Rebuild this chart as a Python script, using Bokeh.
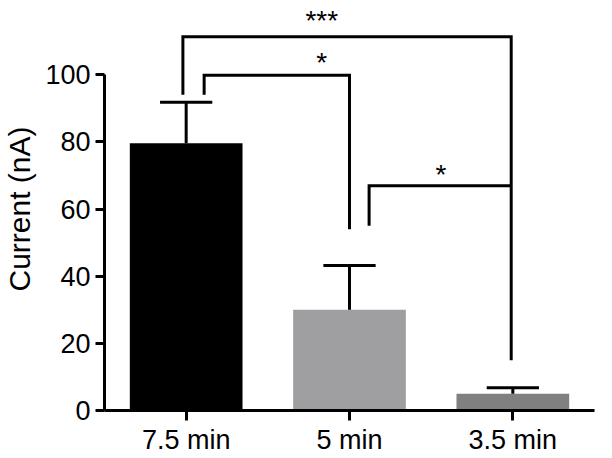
from bokeh.plotting import figure
from bokeh.models import Range1d, FixedTicker, ColumnDataSource
from bokeh.embed import file_html
from bokeh.resources import INLINE
from bokeh.core.properties import value

# ---- data ----
categories = ["7.5 min", "5 min", "3.5 min"]
means = [79.6, 30.0, 5.0]
err_top = [91.8, 43.2, 6.8]
bar_colors = ["#000000", "#9f9fa2", "#808080"]
y_ticks = [0, 20, 40, 60, 80, 100]

# significance brackets: left x, right x, top y, left leg bottom, right leg bottom, label
br_left = [0.48, 0.61, 1.62]
br_right = [2.49, 1.50, 2.49]
br_top = [111.3, 99.8, 66.9]
br_left_bottom = [94.0, 94.0, 55.0]
br_right_bottom = [15.0, 54.0, 66.9]
br_label = ["***", "*", "*"]
label_y = [118.2, 105.7, 72.5]
label_x = [1.33, 1.33, 2.06]

FONT = "Liberation Sans"

x = [i + 0.5 for i in range(len(categories))]

p = figure(width=600, height=457, output_backend="svg", toolbar_location=None,
           x_range=Range1d(0, 3), y_range=Range1d(0, 120),
           min_border_left=90, min_border_right=6, min_border_top=7, min_border_bottom=40)
p.outline_line_color = None
p.grid.grid_line_color = None

src = ColumnDataSource(dict(x=x, top=means, color=bar_colors, et=err_top))
p.vbar(x="x", top="top", width=0.69, bottom=0, fill_color="color", line_color=None, source=src)
p.segment(x0="x", y0="top", x1="x", y1="et", line_color="black", line_width=3, source=src)
p.segment(x0=[xi - 0.16 for xi in x], y0=err_top, x1=[xi + 0.16 for xi in x], y1=err_top,
          line_color="black", line_width=3)

for i in range(len(br_label)):
    l, r, t = br_left[i], br_right[i], br_top[i]
    p.line(x=[l, l, r, r], y=[br_left_bottom[i], t, t, br_right_bottom[i]],
           line_color="black", line_width=3, line_join="miter")

p.text(x=label_x, y=label_y, text=br_label,
       text_font=value(FONT), text_font_size="28px", text_align="center",
       text_baseline="middle", text_color="black", y_offset=7)

# axes
xa = p.xaxis[0]
xa.ticker = FixedTicker(ticks=x)
xa.major_label_overrides = {xi: c for xi, c in zip(x, categories)}
xa.minor_tick_line_color = None
xa.major_tick_out = 10
xa.major_tick_in = 0
xa.major_tick_line_width = 3
xa.axis_line_width = 3
xa.major_label_text_font = FONT
xa.major_label_text_font_size = "27px"
xa.major_label_text_color = "black"
xa.major_label_standoff = 4

ya = p.yaxis[0]
ya.ticker = FixedTicker(ticks=y_ticks)
ya.bounds = (0, 100)
ya.minor_tick_line_color = None
ya.major_tick_out = 9
ya.major_tick_in = 0
ya.major_tick_line_width = 3
ya.axis_line_width = 3
ya.major_label_text_font = FONT
ya.major_label_text_font_size = "27px"
ya.major_label_text_color = "black"
ya.major_label_standoff = 5
ya.axis_label = "Current (nA)"
ya.axis_label_text_font = FONT
ya.axis_label_text_font_size = "30px"
ya.axis_label_text_font_style = "normal"
ya.axis_label_text_color = "black"
ya.axis_label_standoff = 6

open("out.html", "w").write(file_html(p, INLINE))
